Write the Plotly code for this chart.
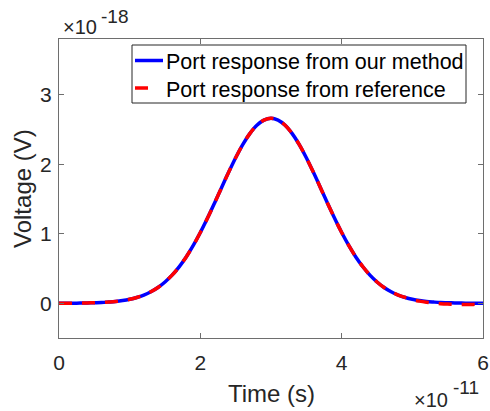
import plotly.graph_objects as go

# Time axis in units of 1e-11 s, voltage in units of 1e-18 V
time_e11 = [0.0, 0.1, 0.2, 0.3, 0.4, 0.5, 0.6, 0.7, 0.8, 0.9,
            1.0, 1.1, 1.2, 1.3, 1.4, 1.5, 1.6, 1.7, 1.8, 1.9,
            2.0, 2.1, 2.2, 2.3, 2.4, 2.5, 2.6, 2.7, 2.8, 2.9,
            3.0, 3.1, 3.2, 3.3, 3.4, 3.5, 3.6, 3.7, 3.8, 3.9,
            4.0, 4.1, 4.2, 4.3, 4.4, 4.5, 4.6, 4.7, 4.8, 4.9,
            5.0, 5.1, 5.2, 5.3, 5.4, 5.5, 5.6, 5.7, 5.8, 5.9, 6.0]

v_ours_e18 = [0.001, 0.001, 0.001, 0.002, 0.004, 0.007, 0.010, 0.017, 0.025, 0.038,
              0.057, 0.083, 0.118, 0.165, 0.227, 0.306, 0.404, 0.524, 0.666, 0.831,
              1.017, 1.221, 1.438, 1.661, 1.882, 2.092, 2.281, 2.439, 2.560, 2.634,
              2.660, 2.634, 2.560, 2.439, 2.281, 2.092, 1.882, 1.661, 1.438, 1.221,
              1.017, 0.831, 0.666, 0.524, 0.404, 0.306, 0.227, 0.165, 0.118, 0.083,
              0.057, 0.038, 0.025, 0.017, 0.010, 0.007, 0.004, 0.002, 0.001, 0.001, 0.001]

v_ref_e18 = [0.001, 0.001, 0.001, 0.002, 0.004, 0.007, 0.010, 0.017, 0.025, 0.038,
             0.057, 0.083, 0.118, 0.165, 0.227, 0.306, 0.404, 0.524, 0.666, 0.831,
             1.017, 1.221, 1.438, 1.661, 1.882, 2.092, 2.281, 2.439, 2.560, 2.634,
             2.660, 2.634, 2.560, 2.439, 2.281, 2.092, 1.882, 1.661, 1.438, 1.221,
             1.017, 0.831, 0.666, 0.524, 0.404, 0.306, 0.227, 0.165, 0.118, 0.083,
             0.050, 0.030, 0.015, 0.003, -0.006, -0.012, -0.016, -0.018, -0.018, -0.016, -0.014]

series_names = ["Port response from our method", "Port response from reference"]
series_colors = ["#0000ff", "#ff0000"]

x_ticks = [0, 2, 4, 6]
y_ticks = [0, 1, 2, 3]

FONT = "Liberation Sans, Arial, sans-serif"
TEXT = "#262626"
AXIS = "#6e6e6e"

W, H = 490, 411
ML, MR, MT, MB = 59, 7, 39, 73
PW, PH = W - ML - MR, H - MT - MB


def px(xp):
    """Horizontal pixel position -> paper coordinate."""
    return (xp - ML) / PW


def py(yp):
    """Vertical pixel position (from top) -> paper coordinate."""
    return (H - MB - yp) / PH


fig = go.Figure()
fig.add_trace(go.Scatter(
    x=time_e11, y=v_ours_e18, mode="lines", line_shape="spline",
    name=series_names[0], showlegend=False,
    line=dict(color=series_colors[0], width=3.5),
))
fig.add_trace(go.Scatter(
    x=time_e11, y=v_ref_e18, mode="lines", line_shape="spline",
    name=series_names[1], showlegend=False,
    line=dict(color=series_colors[1], width=3.5, dash="13px,10px"),
))

axis_common = dict(
    showline=True, linecolor=AXIS, linewidth=1, mirror="ticks",
    ticks="inside", ticklen=5, tickcolor=AXIS, tickwidth=1,
    showgrid=False, zeroline=False, automargin=False,
    tickfont=dict(family=FONT, size=21, color=TEXT),
)

fig.update_xaxes(range=[0, 6], tickvals=x_ticks, ticktext=[str(v) for v in x_ticks],
                 ticklabelstandoff=6, **axis_common)
fig.update_yaxes(range=[-0.5, 3.8], tickvals=y_ticks, ticktext=[str(v) for v in y_ticks],
                 ticklabelstandoff=2, **axis_common)


def label(text, x, y, size, xanchor="left", yanchor="middle", angle=0, color=TEXT):
    return dict(text=text, xref="paper", yref="paper", x=px(x), y=py(y),
                xanchor=xanchor, yanchor=yanchor, textangle=angle, showarrow=False,
                font=dict(family=FONT, size=size, color=color))


annotations = [
    label("Time (s)", 271, 393, 24, xanchor="center"),
    label("Voltage (V)", 22, 189, 24, xanchor="center", angle=-90),
    # axis multipliers
    label("×10", 61, 27, 20),
    label("-18", 99, 16, 19),
    label("×10", 412, 400, 20),
    label("-11", 451, 387, 19),
    # legend entries
    label(series_names[0], 164, 62.5, 21.5, color="black"),
    label(series_names[1], 164, 89.5, 21.5, color="black"),
]

legend_box = dict(type="rect", xref="paper", yref="paper",
                  x0=px(132), x1=px(466), y0=py(103), y1=py(45),
                  line=dict(color=TEXT, width=1), fillcolor="white", layer="above")
legend_lines = [
    dict(type="line", xref="paper", yref="paper", x0=px(135), x1=px(163),
         y0=py(60.5), y1=py(60.5), line=dict(color=series_colors[0], width=3.5), layer="above"),
    dict(type="line", xref="paper", yref="paper", x0=px(135), x1=px(148),
         y0=py(88), y1=py(88), line=dict(color=series_colors[1], width=3.5), layer="above"),
]

fig.update_layout(
    width=W, height=H,
    margin=dict(l=ML, r=MR, t=MT, b=MB),
    paper_bgcolor="white", plot_bgcolor="white",
    annotations=annotations,
    shapes=[legend_box] + legend_lines,
    showlegend=False,
)

fig.write_html("out.html")
